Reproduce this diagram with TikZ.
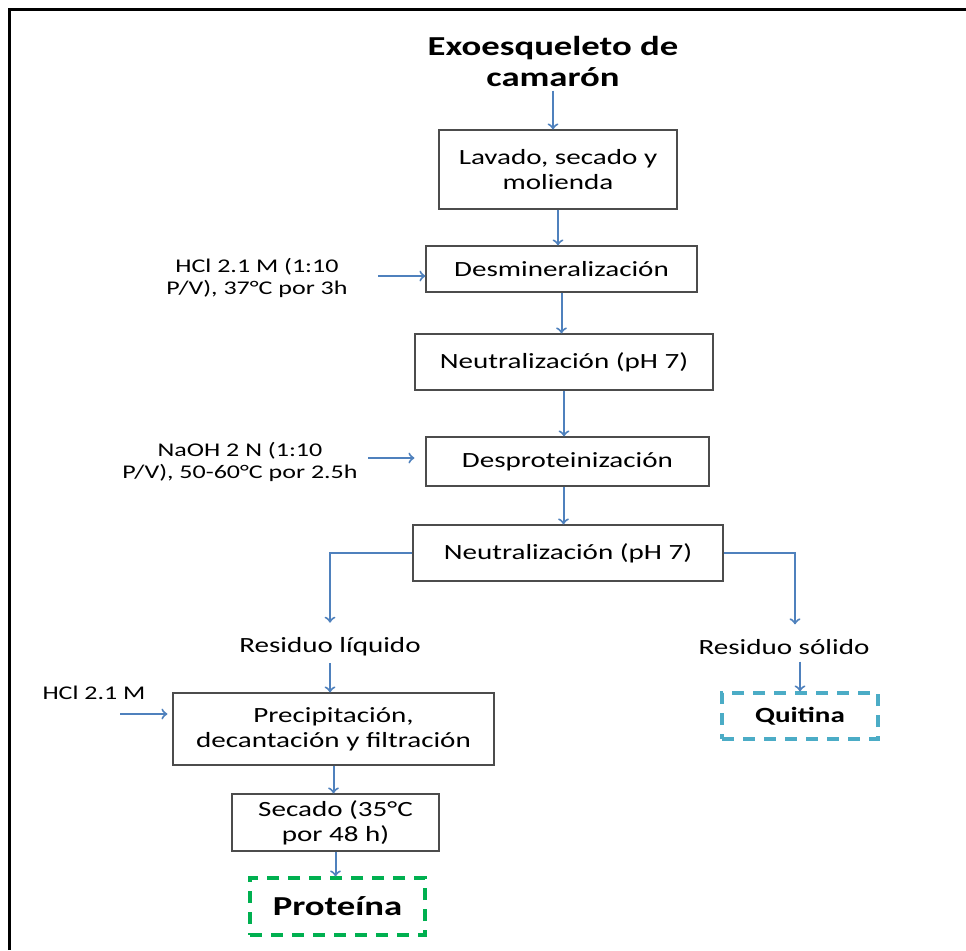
\documentclass[tikz,border=0pt]{standalone}
\usepackage{fontspec}
\setmainfont{Carlito}[FakeStretch=1.34]
\definecolor{flechaazul}{HTML}{4F81BD}
\definecolor{verdeprot}{HTML}{00B050}
\definecolor{azulquit}{HTML}{4BACC6}
\newcommand{\fuentepaso}{\fontsize{10.85}{12.5}\selectfont}
\newcommand{\fuentenota}{\fontsize{9.7}{10.8}\selectfont}
\newcommand{\fuentetitulo}{\fontsize{13.7}{15.5}\selectfont\bfseries}

\begin{document}
\begin{tikzpicture}[x=0.5pt, y=-0.5pt,
    paso/.style={draw=black!70, line width=0.6pt, align=center, inner sep=0pt, font=\fuentepaso},
    nota/.style={align=center, font=\fuentenota},
    residuo/.style={font=\fuentepaso},
    final/.style={line width=1.6pt, dash pattern=on 6pt off 4.5pt, align=center, inner sep=0pt},
    flecha/.style={->, draw=flechaazul, line width=1pt}]

    % Page and frame
    \fill[white] (0,0) rectangle (966,950);
    \useasboundingbox (0,0) rectangle (966,950);
    \draw[line width=1.35pt] (9.5,950) -- (9.5,9.5) -- (966,9.5);

    % Title
    \node[align=center, font=\fuentetitulo, inner sep=2pt] (titulo) at (553,61) {Exoesqueleto de\\camarón};

    % Main chain
    \node[paso, minimum width=119pt, minimum height=39.5pt] (lavado) at (558,169.5) {Lavado, secado y\\molienda};
    \node[paso, minimum width=135.5pt, minimum height=23pt] (desmin) at (561.5,269) {Desmineralización};
    \node[paso, minimum width=149pt, minimum height=28pt] (neutraA) at (564,362) {Neutralización (pH 7)};
    \node[paso, minimum width=141.5pt, minimum height=24.5pt] (desprot) at (567.5,461.5) {Desproteinización};
    \node[paso, minimum width=155pt, minimum height=28pt] (neutraB) at (568,553) {Neutralización (pH 7)};

    % Reagents
    \node[nota] (hclA) at (257,278) {HCl 2.1 M (1:10\\P/V), 37°C por 3h};
    \node[nota] (naoh) at (240,462) {NaOH 2 N (1:10\\P/V), 50-60°C por 2.5h};
    \node[nota] (hclB) at (94,693) {HCl 2.1 M};
    \coordinate (hclAin) at (378,276);
    \coordinate (naohin) at (368,458);
    \coordinate (hclBin) at (120,714);

    % Residues
    \node[residuo] (resliq) at (330,647) {Residuo líquido};
    \node[residuo] (ressol) at (784,647) {Residuo sólido};

    % Liquid branch
    \node[paso, minimum width=160.5pt, minimum height=36pt] (precip) at (333.5,729) {Precipitación,\\decantación y filtración};
    \node[paso, minimum width=103.5pt, minimum height=28.5pt] (secado) at (335.5,822.5) {Secado (35°C\\por 48 h)};
    \node[final, draw=verdeprot, minimum width=87.5pt, minimum height=28.5pt, font=\fuentetitulo] (proteina) at (337.5,906.5) {Proteína};

    % Solid branch
    \node[final, draw=azulquit, minimum width=78pt, minimum height=23pt, font=\fuentepaso\bfseries] (quitina) at (800,716) {Quitina};

    % Arrows
    \draw[flecha] (titulo.south) -- (titulo.south |- lavado.north);
    \draw[flecha] (lavado.south) -- (lavado.south |- desmin.north);
    \draw[flecha] (desmin.south) -- (desmin.south |- neutraA.north);
    \draw[flecha] (neutraA.south) -- (neutraA.south |- desprot.north);
    \draw[flecha] ([xshift=-2pt]desprot.south) -- ([xshift=-2pt]desprot.south |- neutraB.north);
    \draw[flecha] (hclAin) -- (hclAin -| desmin.west);
    \draw[flecha] (naohin) -- ([xshift=-5.5pt]naohin -| desprot.west);
    \draw[flecha] (hclBin) -- ([xshift=-2.5pt]hclBin -| precip.west);
    \draw[flecha] (neutraB.west) -| ([yshift=4pt]resliq.north);
    \draw[flecha] (neutraB.east) -| ([xshift=5.5pt,yshift=4pt]ressol.north);
    \draw[flecha] (resliq.south) -- (resliq.south |- precip.north);
    \draw[flecha] (ressol.south -| quitina.north) -- (quitina.north);
    \draw[flecha] (precip.south) -- (precip.south |- secado.north);
    \draw[flecha] (secado.south) -- (secado.south |- proteina.north);

\end{tikzpicture}
\end{document}
